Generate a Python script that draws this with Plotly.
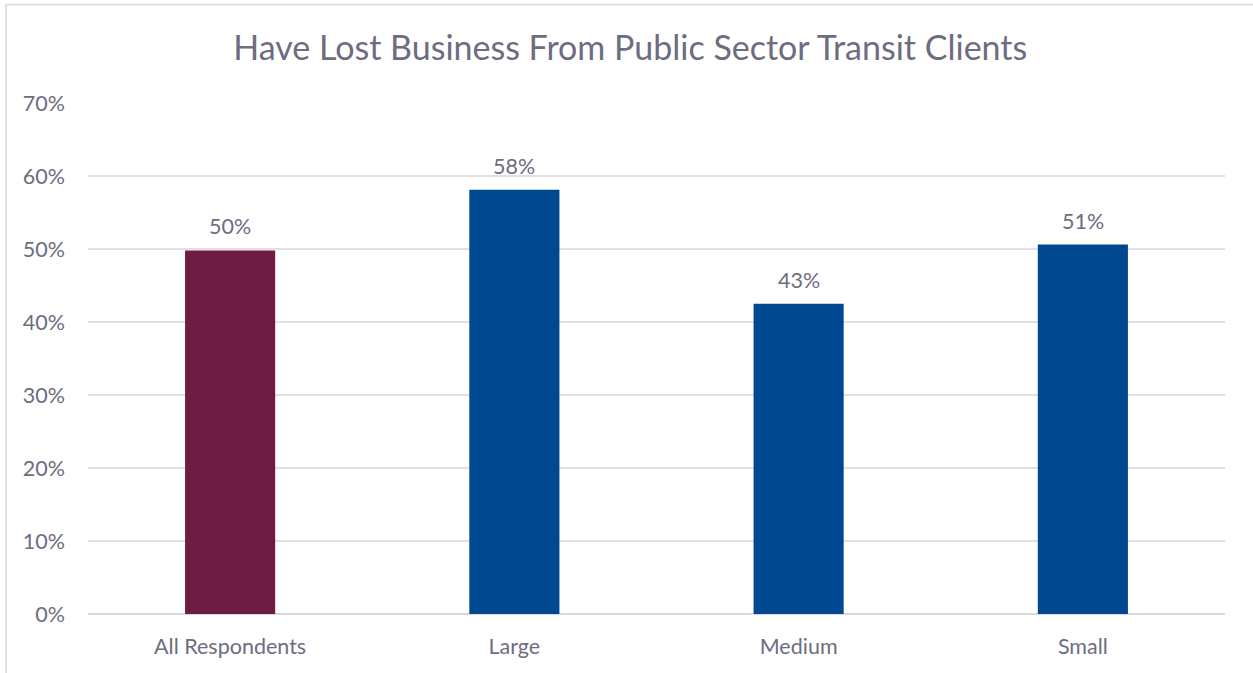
import plotly.graph_objects as go

categories = ["All Respondents", "Large", "Medium", "Small"]
values = [49.8, 58.1, 42.5, 50.6]
labels = ["50%", "58%", "43%", "51%"]
bar_colors = ["#6E1C43", "#004990", "#004990", "#004990"]
y_ticks = [0, 10, 20, 30, 40, 50, 60, 70]
y_tick_text = [f"{t}%" for t in y_ticks]

FONT = "Lato"
TEXT = "#6E6C80"
TICK_SIZE = 21.5

fig = go.Figure(
    go.Bar(
        x=categories,
        y=values,
        marker=dict(color=bar_colors, line=dict(width=0)),
        width=0.317,
        hoverinfo="x+y",
    )
)

# value labels floating above each bar
for cat, val, lab in zip(categories, values, labels):
    fig.add_annotation(
        x=cat,
        y=val,
        text=lab,
        showarrow=False,
        yanchor="middle",
        yshift=24,
        font=dict(family=FONT, size=TICK_SIZE, color=TEXT),
    )

fig.update_layout(
    width=1253,
    height=673,
    margin=dict(l=88, r=28, t=103, b=59),
    paper_bgcolor="white",
    plot_bgcolor="white",
    showlegend=False,
    title=dict(
        text="Have Lost Business From Public Sector Transit Clients",
        x=0.503,
        xref="container",
        xanchor="center",
        y=0.928,
        yanchor="middle",
        font=dict(family=FONT, size=34, color=TEXT),
    ),
    xaxis=dict(
        showgrid=False,
        showline=False,
        ticks="",
        tickfont=dict(family=FONT, size=TICK_SIZE, color=TEXT),
        ticklabelstandoff=17,
    ),
    yaxis=dict(
        range=[0, 70],
        tickvals=y_ticks,
        ticktext=y_tick_text,
        showgrid=True,
        gridcolor="#E0DFE6",
        gridwidth=1.5,
        zeroline=True,
        zerolinecolor="#D9D8E0",
        zerolinewidth=1.5,
        ticks="",
        tickfont=dict(family=FONT, size=TICK_SIZE, color=TEXT),
        ticklabelstandoff=22,
    ),
    shapes=[
        dict(
            type="rect",
            xref="paper",
            yref="paper",
            x0=(6 - 88) / 1137,
            x1=1.2,
            y0=-0.3,
            y1=(614 - 4.5) / 511,
            line=dict(color="#D9D9DE", width=1.5),
            fillcolor="rgba(0,0,0,0)",
            layer="below",
        )
    ],
)

fig.write_html("out.html")
